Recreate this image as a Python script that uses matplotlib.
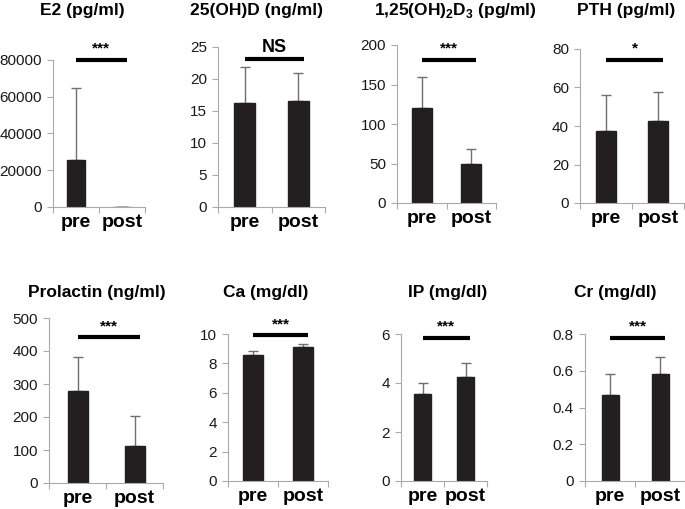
import matplotlib
matplotlib.use("Agg")
import matplotlib.pyplot as plt
from matplotlib.ticker import FixedLocator

plt.rcParams['font.family'] = ['Liberation Sans', 'DejaVu Sans']
plt.rcParams['mathtext.fontset'] = 'custom'
plt.rcParams['mathtext.rm'] = 'Liberation Sans'
plt.rcParams['mathtext.bf'] = 'Liberation Sans:bold'

# ---- data ----
groups = ['pre', 'post']
titles = ['E2 (pg/ml)', '25(OH)D (ng/ml)', r'1,25(OH)$_\mathbf{2}$D$_\mathbf{3}$ (pg/ml)', 'PTH (pg/ml)',
          'Prolactin (ng/ml)', 'Ca (mg/dl)', 'IP (mg/dl)', 'Cr (mg/dl)']
means = [[25500, 120], [16.2, 16.5], [120, 50], [37.5, 42.5],
         [278, 112], [8.6, 9.1], [3.55, 4.25], [0.47, 0.58]]
errs = [[39500, 100], [5.6, 4.5], [40, 18], [18.5, 15],
        [104, 92], [0.25, 0.25], [0.45, 0.55], [0.11, 0.095]]
yticks = [[0, 20000, 40000, 60000, 80000], [0, 5, 10, 15, 20, 25], [0, 50, 100, 150, 200],
          [0, 20, 40, 60, 80], [0, 100, 200, 300, 400, 500], [0, 2, 4, 6, 8, 10],
          [0, 2, 4, 6], [0, 0.2, 0.4, 0.6, 0.8]]
ytick_labels = [['0', '20000', '40000', '60000', '80000'], ['0', '5', '10', '15', '20', '25'],
                ['0', '50', '100', '150', '200'], ['0', '20', '40', '60', '80'],
                ['0', '100', '200', '300', '400', '500'], ['0', '2', '4', '6', '8', '10'],
                ['0', '2', '4', '6'], ['0', '0.2', '0.4', '0.6', '0.8']]
sig_labels = ['***', 'NS', '***', '*', '***', '***', '***', '***']
sig_levels = [80000, 23.1, 181, 74.3, 442, 9.9, 5.84, 0.78]

# ---- layout (pixels in a 685x509 canvas) ----
W, H = 685, 509
# left, right, top(px of max tick), bottom(px of zero)
boxes = [(53, 145, 60, 207), (218, 325, 47, 207), (397, 496, 45, 203), (580, 684, 49, 203),
         (49, 163, 318, 483), (228, 328, 334, 481), (401, 487, 334, 481), (585, 685, 334, 481)]
bar_px = [18, 21, 20, 20, 20, 20, 17, 17]
title_pos = [(82, 11), (257, 11), (455, 11), (626, 11),
             (97, 292), (266, 292), (448, 292), (615, 292)]

fig = plt.figure(figsize=(6.85, 5.09), dpi=100)
bar_color = '#231f20'
spine_color = '#aaaaaa'

for i in range(8):
    l, r, t, b = boxes[i]
    ax = fig.add_axes([l / W, 1 - b / H, (r - l) / W, (b - t) / H])
    x = [0, 1]
    bw = bar_px[i] / ((r - l) / 2.0)
    ax.bar(x, means[i], width=bw, color=bar_color, edgecolor=bar_color, zorder=2)
    ax.errorbar(x, means[i], yerr=[[0, 0], errs[i]], fmt='none', ecolor='#707070',
                elinewidth=1.0, capsize=3.5, capthick=1.0, zorder=1)
    ax.set_xlim(-0.5, 1.5)
    ax.set_ylim(0, yticks[i][-1])
    ax.set_yticks(yticks[i])
    ax.set_yticklabels(ytick_labels[i], fontsize=11, color='#1a1a1a')
    ax.set_xticks(x)
    ax.set_xticklabels(groups, fontsize=14, fontweight='bold')
    ax.xaxis.set_minor_locator(FixedLocator([-0.5, 0.5, 1.5]))
    ax.tick_params(axis='x', which='major', length=0, pad=5)
    ax.tick_params(axis='x', which='minor', length=4, color=spine_color, width=0.8)
    ax.tick_params(axis='y', length=4, color=spine_color, width=0.8, pad=4)
    for s in ['top', 'right']:
        ax.spines[s].set_visible(False)
    for s in ['left', 'bottom']:
        ax.spines[s].set_color(spine_color)
        ax.spines[s].set_linewidth(0.8)
    # significance line
    ax.plot([0, 1.1], [sig_levels[i], sig_levels[i]], color='black', lw=3.0,
            solid_capstyle='butt', clip_on=False, zorder=3)
    if sig_labels[i] == 'NS':
        ax.annotate('NS', xy=(0.55, sig_levels[i]), xytext=(0, 2), textcoords='offset points',
                    ha='center', va='bottom', fontsize=13, fontweight='bold', annotation_clip=False)
    else:
        ax.annotate(sig_labels[i], xy=(0.55, sig_levels[i]), xytext=(0, 3), textcoords='offset points',
                    ha='center', va='bottom', fontsize=11, fontweight='bold', annotation_clip=False)
    tx, ty = title_pos[i]
    fig.text(tx / W, 1 - ty / H, titles[i], ha='center', va='center', fontsize=12.5, fontweight='bold')

fig.savefig('out.png', dpi=100)
